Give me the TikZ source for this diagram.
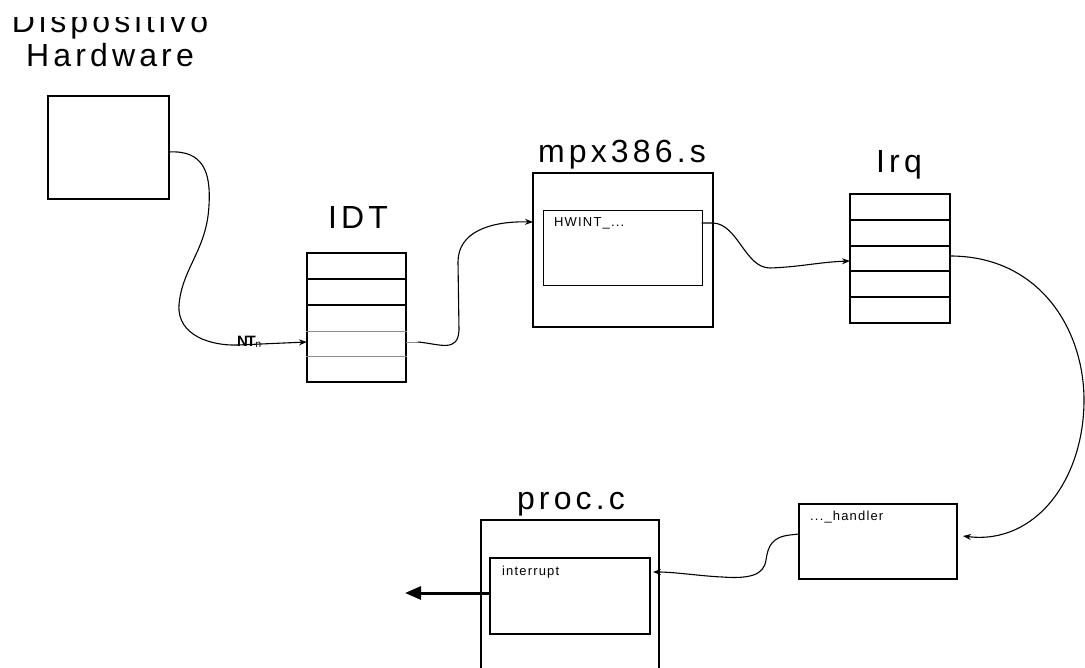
\documentclass[tikz,border=0pt]{standalone}
\usepackage{fontspec}
\setmainfont{Liberation Sans}
\newfontfamily\titlefont[LetterSpace=13]{Liberation Sans}
\newfontfamily\smallfont[LetterSpace=9]{Liberation Sans}
\usetikzlibrary{arrows.meta}
\tikzset{
  x=1pt, y=-1pt,
  box/.style={draw=black, line width=1.3pt, inner sep=0pt, fill=white},
  title/.style={font=\titlefont\fontsize{32}{32}\selectfont, inner sep=0pt, anchor=base},
  small/.style={font=\smallfont\fontsize{13}{13}\selectfont, inner sep=0pt, anchor=base west},
  wire/.style={line width=1.1pt, line cap=round},
  tip/.style={-{Stealth[length=8pt,width=6pt]}},
  rowline/.style={line width=1.3pt},
  thinrow/.style={line width=0.6pt, draw=black!45},
}
\begin{document}
\begin{tikzpicture}
\useasboundingbox (0,0) rectangle (1085,668);

% ---- labels ----
\begin{scope}
  \clip (0,18) rectangle (1085,45);
  \node[title] (lblA) at (110,33) {Dispositivo};
\end{scope}
\node[title] (lblB) at (110,67) {Hardware};
\node[title] (lblIDT) at (358,229) {IDT};
\node[title] (lblMpx) at (622,163) {mpx386.s};
\node[title] (lblIrq) at (899,173) {Irq};
\node[title] (lblProc) at (571,509) {proc.c};

% ---- hardware device ----
\node[box, minimum width=121, minimum height=103] (hw) at (108.5,147.5) {};

% ---- IDT table ----
\node[box, minimum width=99, minimum height=129] (idt) at (356.5,317.5) {};
\draw[rowline] (idt.west |- 0,279) -- (idt.east |- 0,279);
\draw[rowline] (idt.west |- 0,305) -- (idt.east |- 0,305);
\draw[thinrow] (idt.west |- 0,331) -- (idt.east |- 0,331);
\draw[thinrow] (idt.west |- 0,356) -- (idt.east |- 0,356);

% ---- mpx386.s ----
\node[box, minimum width=180, minimum height=154] (mpx) at (623,250) {};
\node[box, line width=1pt, minimum width=159, minimum height=75] (hwint) at (622.5,248.5) {};
\node[small] (hwintT) at (554,227) {HWINT\_...};

% ---- Irq table ----
\node[box, minimum width=100, minimum height=129] (irq) at (900,258.5) {};
\foreach \yy in {220,246,271,297}
  \draw[rowline] (irq.west |- 0,\yy) -- (irq.east |- 0,\yy);

% ---- handler ----
\node[box, minimum width=158, minimum height=75] (hdl) at (878,541.5) {};
\node[small] (hdlT) at (810,520) {...\_handler};

% ---- proc.c (runs off the bottom edge) ----
\coordinate (pTL) at (481,520);
\coordinate (pTR) at (659,520);
\coordinate (pBL) at (481,668);
\coordinate (pBR) at (659,668);
\draw[line width=1.3pt] (pBL) -- (pTL) -- (pTR) -- (pBR);
\node[box, line width=1.1pt, minimum width=160, minimum height=76] (intr) at (570,596) {};
\node[small] (intrT) at (502,575) {interrupt};

% ---- connectors ----
\coordinate (hwOut) at (169,152);
\coordinate (idtIn) at (307,342);
\draw[wire, tip] (hwOut) .. controls (203,150) and (211,172) .. (209,205)
  .. controls (207,250) and (182,268) .. (179,305)
  .. controls (177,336) and (212,346) .. (238,345) -- (idtIn);
\node[font=\fontsize{15}{15}\selectfont\bfseries, inner sep=0pt, anchor=base west] (ntn) at (237,347)
  {N\kern-1.5pt T\raisebox{-1pt}{\fontsize{10}{10}\selectfont\mdseries n}};

\coordinate (idtOut) at (406,342);
\coordinate (mpxIn) at (533,222);
\draw[line width=0.6pt, draw=black!45] (idtOut) -- (418,342);
\draw[wire, tip] (418,342) .. controls (440,344) and (458,353) .. (459,330)
  -- (458,262) .. controls (458,232) and (490,221) .. (mpxIn);

\coordinate (hwOutB) at (702,223);
\coordinate (irqIn) at (850,261);
\draw[wire, tip] (hwOutB) -- (713,223) .. controls (738,224) and (745,268) .. (770,268)
  .. controls (800,267) and (820,262) .. (irqIn);

\coordinate (irqOut) at (950,256);
\coordinate (hdlIn) at (963,536);
\draw[wire, tip] (irqOut) .. controls (1040,256) and (1084,330) .. (1084,400)
  .. controls (1084,480) and (1035,545) .. (hdlIn);

\coordinate (hdlOut) at (799,534);
\coordinate (intrIn) at (653,572);
\draw[wire, tip] (hdlOut) -- (790,535) .. controls (772,537) and (768,546) .. (766,560)
  .. controls (764,575) and (750,579) .. (722,577) .. controls (700,576) and (675,572) .. (intrIn);

\coordinate (outEnd) at (405,593);
\draw[line width=3pt, -{Triangle[length=16pt,width=13pt]}] (intr.west |- 0,593) -- (outEnd);
\end{tikzpicture}
\end{document}
